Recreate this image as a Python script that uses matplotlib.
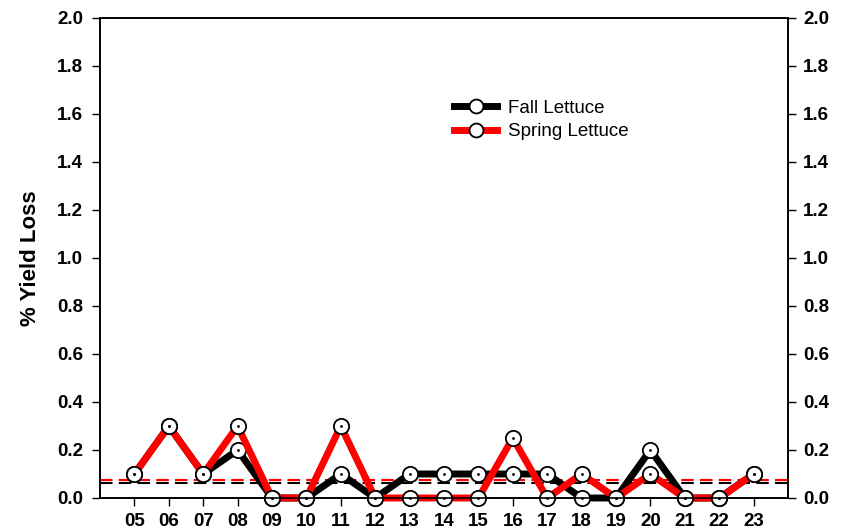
import matplotlib
matplotlib.use("Agg")
import matplotlib.pyplot as plt
from matplotlib.lines import Line2D
import numpy as np

years = ["05", "06", "07", "08", "09", "10", "11", "12", "13", "14",
         "15", "16", "17", "18", "19", "20", "21", "22", "23"]
fall = [0.1, 0.3, 0.1, 0.2, 0.0, 0.0, 0.1, 0.0, 0.1, 0.1,
        0.1, 0.1, 0.1, 0.0, 0.0, 0.2, 0.0, 0.0, 0.1]
spring = [0.1, 0.3, 0.1, 0.3, 0.0, 0.0, 0.3, 0.0, 0.0, 0.0,
          0.0, 0.25, 0.0, 0.1, 0.0, 0.1, 0.0, 0.0, 0.1]
fall_mean = 0.062
spring_mean = 0.075

plt.rcParams['font.family'] = ['Liberation Sans', 'DejaVu Sans']

fig = plt.figure(figsize=(8.54, 5.29), dpi=100)
ax = fig.add_axes([100/854, 31/529, 688/854, 480/529])

x = np.arange(5, 5 + len(years))

ax.axhline(fall_mean, color='black', ls=(0, (6, 3)), lw=1.5, zorder=2)
ax.axhline(spring_mean, color='red', ls=(0, (6, 3)), lw=1.5, zorder=2)

mk = dict(marker='o', markersize=11, markerfacecolor='white',
          markeredgecolor='black', markeredgewidth=1.3)
ax.plot(x, fall, color='black', lw=5, clip_on=False, zorder=3, **mk)
ax.plot(x, spring, color='red', lw=5, clip_on=False, zorder=4, **mk)
# tiny center dots
ax.plot(x, fall, ls='none', marker='.', markersize=2, color='black', clip_on=False, zorder=5)
ax.plot(x, spring, ls='none', marker='.', markersize=2, color='black', clip_on=False, zorder=5)

ax.set_xlim(4, 24)
ax.set_ylim(0, 2.0)
ax.set_xticks(x)
ax.set_xticklabels(years, fontsize=13.5, fontweight='bold')
yt = np.arange(0, 2.01, 0.2)
ax.set_yticks(yt)
ax.set_yticklabels([f"{v:.1f}" for v in yt], fontsize=13.5, fontweight='bold')
ax.tick_params(direction='out', length=6, width=1, pad=6)
ax.tick_params(axis='x', pad=5)
ax.set_ylabel('% Yield Loss', fontsize=16, fontweight='bold', labelpad=12)

ax2 = ax.twinx()
ax2.set_ylim(0, 2.0)
ax2.set_yticks(yt)
ax2.set_yticklabels([f"{v:.1f}" for v in yt], fontsize=13.5, fontweight='bold')
ax2.tick_params(direction='out', length=6, width=1, pad=5)

for a in (ax, ax2):
    for s in a.spines.values():
        s.set_linewidth(1.2)

mkl = dict(mk, markersize=10)
handles = [Line2D([], [], color='black', lw=5, **mkl),
           Line2D([], [], color='red', lw=5, **mkl)]
ax.legend(handles, ['Fall Lettuce', 'Spring Lettuce'], loc='upper left',
          bbox_to_anchor=(0.49, 0.865), frameon=False, fontsize=13.5,
          handlelength=2.3, labelspacing=0.35, handletextpad=0.6)

fig.savefig('out.png', dpi=100)
